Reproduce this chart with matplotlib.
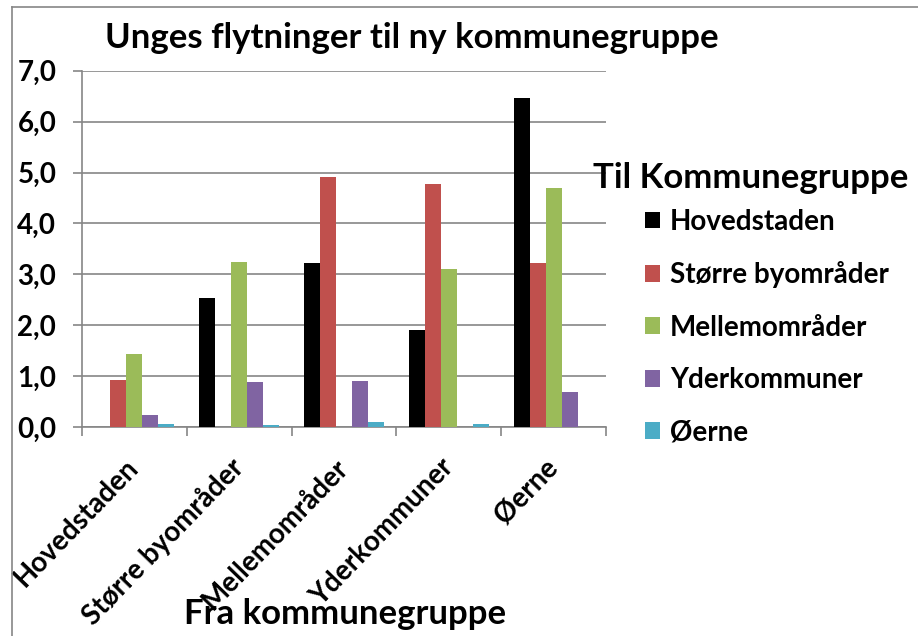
import matplotlib
matplotlib.use('Agg')
import matplotlib.pyplot as plt
from matplotlib.lines import Line2D
from matplotlib.ticker import FuncFormatter
import numpy as np

plt.rcParams['font.family'] = ['Lato', 'DejaVu Sans']
plt.rcParams['font.weight'] = 'bold'

# Fra kommunegruppe (x categories)
fra = ['Hovedstaden', 'Større byområder', 'Mellemområder', 'Yderkommuner', 'Øerne']

# Til kommunegruppe (series), values per fra-category
til = ['Hovedstaden', 'Større byområder', 'Mellemområder', 'Yderkommuner', 'Øerne']
hovedstaden = [0.0, 2.53, 3.23, 1.90, 6.47]
stoerre_by = [0.92, 0.0, 4.92, 4.78, 3.23]
mellem = [1.43, 3.25, 0.0, 3.10, 4.69]
yder = [0.24, 0.88, 0.90, 0.0, 0.69]
oerne = [0.06, 0.04, 0.09, 0.06, 0.0]

series = [hovedstaden, stoerre_by, mellem, yder, oerne]
colors = ['#000000', '#C0504D', '#9BBB59', '#8064A2', '#4BACC6']
gray = '#868686'

W, H = 918, 636
fig = plt.figure(figsize=(W / 100, H / 100), dpi=100)
ax = fig.add_axes([82 / W, 1 - 427 / H, (606 - 82) / W, (427 - 70.7) / H])

x = np.arange(len(fra))
bw = 0.153
for i, (vals, c) in enumerate(zip(series, colors)):
    ax.bar(x + (i - 2) * bw, vals, bw, color=c, label=til[i], zorder=3)

ax.set_xlim(-0.5, len(fra) - 0.5)
ax.set_ylim(0, 7)
ax.set_yticks(np.arange(0, 8, 1))
ax.yaxis.set_major_formatter(FuncFormatter(lambda v, p: f'{v:.1f}'.replace('.', ',')))
ax.grid(axis='y', color=gray, linewidth=1.2, zorder=0)

for s in ['top', 'right']:
    ax.spines[s].set_visible(False)
for s in ['left', 'bottom']:
    ax.spines[s].set_color(gray)
    ax.spines[s].set_linewidth(1.2)

ax.tick_params(axis='y', direction='out', length=6.5, width=1.2, color=gray,
               labelsize=20, pad=12)
ax.set_xticks(x)
ax.set_xticks(np.arange(-0.5, len(fra), 1), minor=True)
ax.tick_params(axis='x', which='major', length=0, pad=26)
ax.tick_params(axis='x', which='minor', direction='out', length=6.5, width=1.2, color=gray)
ax.set_xticklabels(fra, rotation=46, ha='right', va='center', rotation_mode='anchor',
                   fontsize=20, fontweight='bold')
for lab in ax.get_yticklabels():
    lab.set_fontweight('bold')

fig.text(105 / W, 1 - 48 / H, 'Unges flytninger til ny kommunegruppe',
         fontsize=25, fontweight='bold', va='baseline', ha='left')
fig.text(345 / W, 1 - 624 / H, 'Fra kommunegruppe',
         fontsize=25, fontweight='bold', va='baseline', ha='center')
fig.text(593 / W, 1 - 188 / H, 'Til Kommunegruppe',
         fontsize=25, fontweight='bold', va='baseline', ha='left')

leg = fig.legend(loc='upper left', bbox_to_anchor=(631 / W, 1 - 195 / H),
                 frameon=False, fontsize=20, handlelength=0.55, handleheight=0.55,
                 handletextpad=0.35, labelspacing=0.95, borderpad=0)
for t in leg.get_texts():
    t.set_fontweight('bold')

# outer chart frame (left and top edges visible)
fig.add_artist(Line2D([12 / W, 12 / W], [0, 1 - 7 / H], transform=fig.transFigure,
                      color=gray, linewidth=1.2))
fig.add_artist(Line2D([12 / W, 1], [1 - 7 / H, 1 - 7 / H], transform=fig.transFigure,
                      color=gray, linewidth=1.2))

fig.savefig('out.png', dpi=100)
